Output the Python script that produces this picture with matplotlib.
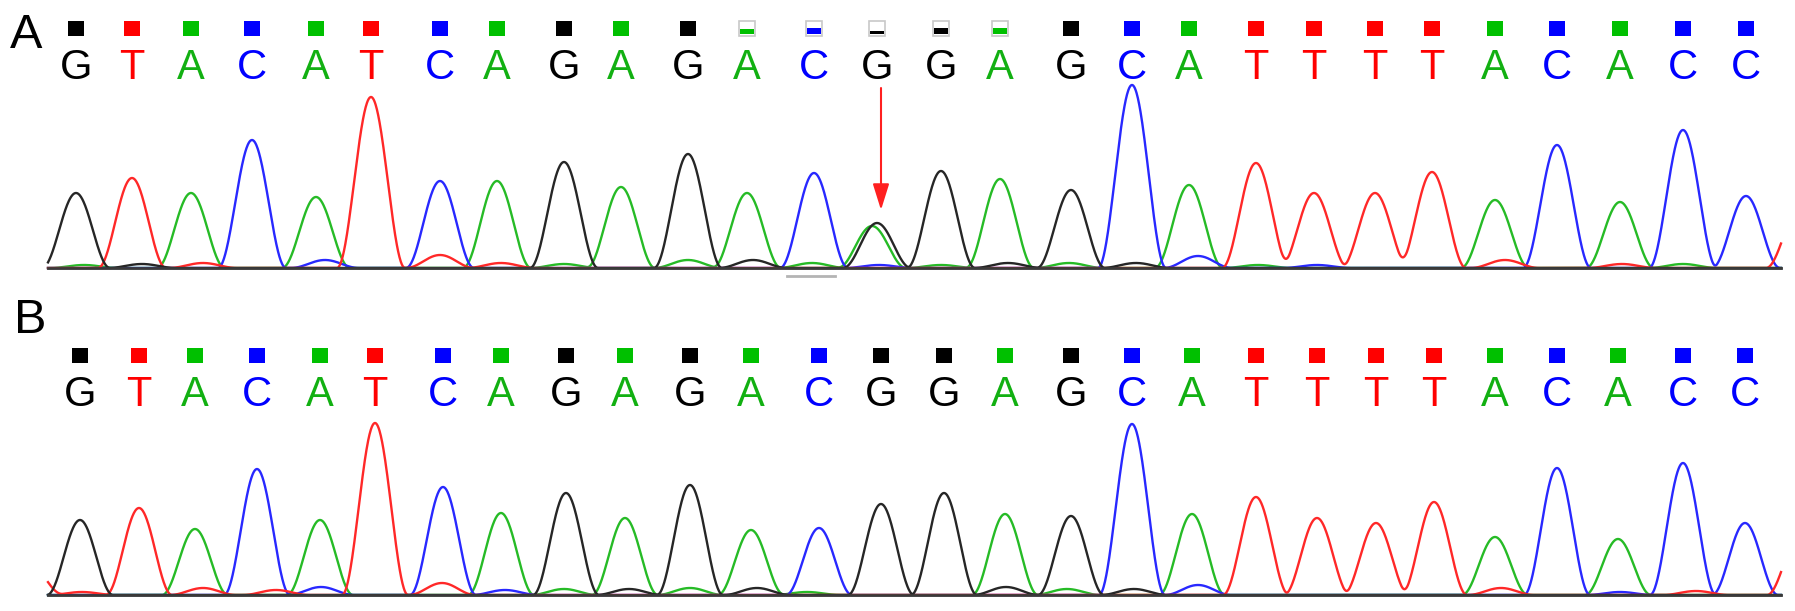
import numpy as np
import matplotlib.pyplot as plt
from matplotlib.patches import Rectangle

W, H = 1795, 611

# base calls (same sequence read in both panels)
bases = "GTACATCAGAGACGGAGCATTTTACACC"

# trace positions of the called peaks
pos_a = [76, 132, 191, 252, 316, 371, 440, 497, 564, 621, 688, 747, 814, 877,
         941, 1000, 1071, 1132, 1189, 1256, 1314, 1375, 1432, 1495, 1557, 1620,
         1683, 1746]
pos_b = [80, 139, 195, 257, 320, 375, 443, 501, 566, 625, 690, 751, 819, 881,
         944, 1005, 1071, 1132, 1192, 1256, 1317, 1376, 1434, 1495, 1557, 1618,
         1683, 1745]

# peak heights of the called bases
height_a = [75, 90, 75, 128, 71, 171, 87, 87, 106, 81, 114, 75, 95, 45, 97, 89,
            78, 183, 83, 105, 75, 75, 96, 68, 123, 66, 138, 72]
height_b = [75, 87, 66, 126, 75, 172, 108, 82, 102, 77, 110, 65, 67, 91, 102,
            81, 79, 171, 81, 98, 77, 72, 93, 58, 127, 56, 132, 72]

# quality boxes (1 = full box), panel A has a few low ones
qual_a = [1]*11 + [0.35, 0.5, 0.25, 0.5, 0.5] + [1]*12
qual_b = [1]*28

# background / secondary peaks: position, base, height
minor_a = [(84, 'A', 3), (142, 'G', 4), (203, 'T', 5), (325, 'C', 8), (440, 'T', 13),
           (501, 'T', 5), (564, 'A', 4), (688, 'A', 8), (753, 'G', 8), (812, 'A', 5),
           (872, 'A', 42), (879, 'C', 3), (941, 'A', 3), (1008, 'G', 5), (1069, 'A', 5),
           (1136, 'G', 5), (1198, 'C', 12), (1258, 'A', 3), (1317, 'C', 3),
           (1505, 'T', 8), (1622, 'T', 4), (1683, 'A', 4), (1800, 'T', 60)]
minor_b = [(30, 'T', 30), (82, 'T', 3), (203, 'T', 7), (276, 'T', 5), (321, 'C', 8),
           (442, 'T', 12), (505, 'C', 5), (564, 'A', 6), (629, 'G', 6), (690, 'A', 7),
           (757, 'G', 7), (807, 'A', 3), (1006, 'G', 8), (1067, 'A', 6), (1134, 'G', 6),
           (1198, 'C', 10), (1501, 'T', 7), (1620, 'C', 3), (1696, 'T', 4),
           (1800, 'T', 60)]

trace_col = {'G': '#262626', 'T': '#ff2828', 'A': '#26bb26', 'C': '#2828ff'}
text_col = {'G': '#000000', 'T': '#ff0000', 'A': '#12b012', 'C': '#0000ff'}
box_col = {'G': '#000000', 'T': '#ff0000', 'A': '#00c000', 'C': '#0000ff'}

xs = np.linspace(48, 1781, 4000)


def bump(x0, h, w):
    # raised-cosine peak shape, zero beyond +-w
    d = np.clip(np.abs(xs - x0)/w, 0, 1)
    return h*(0.5 + 0.5*np.cos(np.pi*d))


def panel(baseline, pos, heights, minor, qual, w):
    ax = fig.add_axes([48/W, (H - baseline - 3)/H, 1733/W, 265/H])
    ax.set_xlim(48, 1781)
    ax.set_ylim(-3, 262)
    ax.axis('off')

    traces = {b: np.zeros_like(xs) for b in 'GATC'}
    for x0, b, h in zip(pos, bases, heights):
        traces[b] += bump(x0, h, w)
    for x0, b, h in minor:
        traces[b] += bump(x0, h, w)

    for b in 'ACTG':
        ax.plot(xs, traces[b], color=trace_col[b], lw=1.7, zorder=2, clip_on=False)
    ax.axhline(0, color='#3a3a3a', lw=2, clip_on=False, zorder=3)

    for x0, b, q in zip(pos, bases, qual):
        if q >= 1:
            ax.add_patch(Rectangle((x0 - 8, 232), 16, 15, color=box_col[b], lw=0))
        else:
            ax.add_patch(Rectangle((x0 - 8, 232), 16, 15, facecolor='white',
                                   edgecolor='#c8c8c8', lw=1.2))
            ax.add_patch(Rectangle((x0 - 7, 234), 14, 13*q, color=box_col[b], lw=0))
        ax.text(x0, 189, b, ha='center', va='baseline', fontsize=30,
                family='Liberation Sans', color=text_col[b])
    return ax


fig = plt.figure(figsize=(W/100, H/100), dpi=100)

ax_a = panel(268, pos_a, height_a, minor_a, qual_a, 34)
ax_a.annotate('', xy=(881, 58), xytext=(881, 180),
              arrowprops=dict(arrowstyle='-|>,head_length=0.8,head_width=0.25',
                              color='#ff2020', lw=1.5, mutation_scale=20,
                              shrinkA=0, shrinkB=0))
ax_a.plot([787, 835], [-8, -8], color='#b4b4b4', lw=2, clip_on=False)

ax_b = panel(595, pos_b, height_b, minor_b, qual_b, 33)

fig.text(10/W, 1 - 48/H, 'A', fontsize=35, family='Liberation Sans', va='baseline')
fig.text(14/W, 1 - 333/H, 'B', fontsize=35, family='Liberation Sans', va='baseline')

fig.savefig('out.png', dpi=100, facecolor='white')
